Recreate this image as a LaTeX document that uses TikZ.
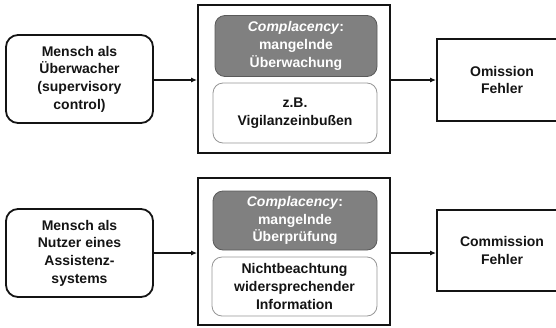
\documentclass[tikz,border=0pt]{standalone}
\usepackage{fontspec}
\setmainfont{Liberation Sans}
\usetikzlibrary{arrows.meta}
\definecolor{boxgray}{RGB}{128,128,128}
\definecolor{grayedge}{RGB}{90,90,90}
\definecolor{lightedge}{RGB}{150,150,150}
\definecolor{ink}{RGB}{20,20,20}
\begin{document}
\begin{tikzpicture}[x=1pt,y=-1pt,
  every node/.style={font=\bfseries\fontsize{14}{17.7}\selectfont, align=center, inner sep=0pt, text=ink},
  roleBox/.style={draw=ink, line width=1.8pt, rounded corners=12pt, minimum width=147pt, minimum height=88pt},
  outerBox/.style={draw=ink, line width=1.8pt, minimum width=192pt, minimum height=148pt},
  grayBox/.style={draw=grayedge, fill=boxgray, line width=0.8pt, rounded corners=10pt, minimum width=162pt, minimum height=61pt, text=white},
  whiteBox/.style={draw=lightedge, fill=white, line width=0.8pt, rounded corners=10pt, minimum width=164pt, minimum height=60pt},
  errBox/.style={draw=ink, line width=1.8pt, minimum width=130pt, minimum height=82pt},
  flow/.style={draw=ink, line width=1.6pt, -{Latex[length=6pt,width=5pt]}}
]
\useasboundingbox (0,0) rectangle (556,327);
\begin{scope}
\clip (0,0) rectangle (556,327);
% top row
\node[roleBox] (L1) at (79.5,79) {Mensch als\\Überwacher\\(supervisory\\control)};
\node[outerBox] (M1) at (294,79) {};
\node[grayBox] (G1) at (296,46) {\textit{Complacency}:\\mangelnde\\Überwachung};
\node[whiteBox] (W1) at (295,113) {z.B.\\Vigilanzeinbußen};
\node[errBox] (R1) at (502,80) {Omission\\Fehler};
\draw[flow] (L1.east |- 0,80) -- (M1.west |- 0,80);
\draw[flow] (M1.east |- 0,80) -- (R1.west |- 0,80);
% bottom row
\node[roleBox] (L2) at (79.5,253) {Mensch als\\Nutzer eines\\Assistenz-\\systems};
\node[outerBox, minimum height=147pt] (M2) at (294,251.5) {};
\node[grayBox, minimum width=164pt, minimum height=59pt] (G2) at (295,220.5) {\textit{Complacency}:\\mangelnde\\Überprüfung};
\node[whiteBox, minimum width=165pt, minimum height=59pt] (W2) at (294.5,286.5) {Nichtbeachtung\\widersprechender\\Information};
\node[errBox, minimum height=81pt] (R2) at (502,250.5) {Commission\\Fehler};
\draw[flow] (L2.east |- 0,253) -- (M2.west |- 0,253);
\draw[flow] (M2.east |- 0,253) -- (R2.west |- 0,253);
\end{scope}
\end{tikzpicture}
\end{document}
